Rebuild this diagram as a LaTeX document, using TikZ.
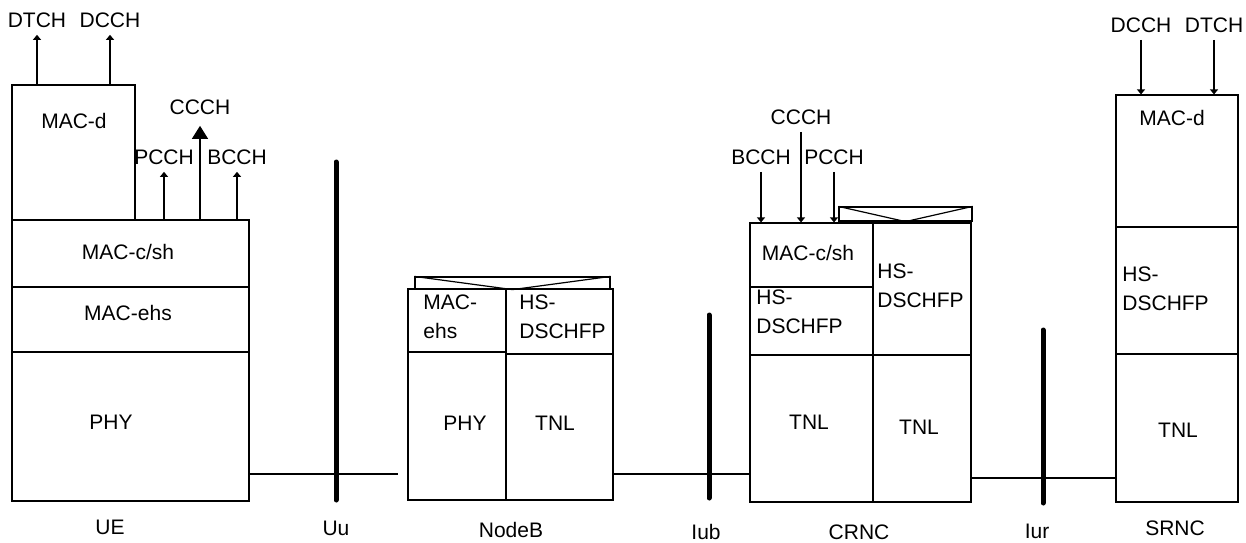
\documentclass[tikz,border=0pt]{standalone}
\usepackage{fontspec}
\setmainfont{Liberation Sans}
\usetikzlibrary{arrows.meta,fit}

\begin{document}
\begin{tikzpicture}[x=0.5pt,y=-0.5pt,
   font=\fontsize{10.5pt}{14.5pt}\selectfont,
   lay/.style={draw,line width=0.6pt,inner sep=0pt},
   txt/.style={inner sep=0pt},
   two/.style={inner sep=0pt,align=left,anchor=west},
   chan/.style={inner xsep=0pt,inner ysep=3.5pt},
   arr/.style={line width=0.6pt,-{Triangle[width=4pt,length=2.5pt]}},
   big/.style={line width=0.6pt,-{Triangle[width=8pt,length=6.5pt]}},
   bar/.style={line width=2.5pt,line cap=round},
   link/.style={line width=0.6pt}]
  \useasboundingbox (0,0) rectangle (1246,542);
  % UE
  \node[lay,fit={(12,85) (135,220)}] (uemacd) {};
  \node[lay,fit={(12,220) (249,287)}] (uemacc) {};
  \node[lay,fit={(12,287) (249,352)}] (ueehs) {};
  \node[lay,fit={(12,352) (249,501)}] (uephy) {};
  \node[txt] (uemacdt) at (74,121) {MAC-d};
  \node[txt] (uemacct) at (128,252) {MAC-c/sh};
  \node[txt] (ueehst) at (128,313) {MAC-ehs};
  \node[txt] (uephyt) at (111,422) {PHY};
  \node[txt] (ue) at (110,527) {UE};
  \node[chan] (uedtch) at (37,20) {DTCH};
  \node[chan] (uedcch) at (110,20) {DCCH};
  \node[chan] (uepcch) at (164,157) {PCCH};
  \node[chan] (ueccch) at (200,107) {CCCH};
  \node[chan] (uebcch) at (237,157) {BCCH};
  \draw[arr] (uemacd.north -| uedtch) -- (uedtch.south);
  \draw[arr] (uemacd.north -| uedcch) -- (uedcch.south);
  \draw[arr] (uemacc.north -| uepcch) -- (uepcch.south);
  \draw[big,shorten >=2pt] (uemacc.north -| ueccch) -- (ueccch.south);
  \draw[arr] (uemacc.north -| uebcch) -- (uebcch.south);
  % Uu
  \draw[bar] (336,162) -- (336,500);
  \node[txt] (uu) at (336,528) {Uu};
  \coordinate (uuend) at (398,474);
  \draw[link] (uephy.east |- uuend) -- (uuend);
  % NodeB
  \node[lay,fit={(415,277) (610,289)}] (nbtray) {};
  \draw[line width=0.6pt] (nbtray.north west) -- (nbtray.south) -- (nbtray.north east);
  \node[lay,fit={(408,289) (506,352)}] (nbehs) {};
  \node[lay,fit={(506,289) (613,354)}] (nbfp) {};
  \node[lay,fit={(408,352) (506,500)}] (nbphy) {};
  \node[lay,fit={(506,354) (613,500)}] (nbtnl) {};
  \node[two] (nbehst) at (423,317) {MAC-\\ehs};
  \node[two] (nbfpt) at (519,317) {HS-\\DSCHFP};
  \node[txt] (nbphyt) at (465,423) {PHY};
  \node[txt] (nbtnlt) at (555,423) {TNL};
  \node[txt] (nodeb) at (511,530) {NodeB};
  % Iub
  \draw[bar] (709,315) -- (709,498);
  \node[txt] (iub) at (706,532) {Iub};
  % CRNC
  \node[lay,fit={(839,207) (972,221)}] (crtray) {};
  \draw[line width=0.6pt] (crtray.north west) -- (crtray.south) -- (crtray.north east);
  \node[lay,fit={(750,223) (873,287)}] (crmacc) {};
  \node[lay,fit={(750,287) (873,355)}] (crfpl) {};
  \node[lay,fit={(873,223) (971,355)}] (crfpr) {};
  \node[lay,fit={(750,355) (873,502)}] (crtnll) {};
  \node[lay,fit={(873,355) (971,502)}] (crtnlr) {};
  \node[txt] (crmacct) at (808,253) {MAC-c/sh};
  \node[two] (crfplt) at (756,312) {HS-\\DSCHFP};
  \node[two] (crfprt) at (877,286) {HS-\\DSCHFP};
  \node[txt] (crtnllt) at (809,422) {TNL};
  \node[txt] (crtnlrt) at (919,427) {TNL};
  \node[txt] (crnc) at (859,532) {CRNC};
  \node[chan] (crbcch) at (761,157) {BCCH};
  \node[chan] (crccch) at (801,117) {CCCH};
  \node[chan] (crpcch) at (834,157) {PCCH};
  \draw[arr] (crbcch.south) -- (crbcch |- crmacc.north);
  \draw[arr] (crccch.south) -- (crccch |- crmacc.north);
  \draw[arr] (crpcch.south) -- (crpcch |- crmacc.north);
  \coordinate (iuby) at (0,474);
  \draw[link] (nbtnl.east |- iuby) -- (crtnll.west |- iuby);
  % Iur
  \draw[bar] (1043,330) -- (1043,503);
  \node[txt] (iur) at (1037,531) {Iur};
  % SRNC
  \node[lay,fit={(1116,95) (1238,227)}] (srmacd) {};
  \node[lay,fit={(1116,227) (1238,354)}] (srfp) {};
  \node[lay,fit={(1116,354) (1238,502)}] (srtnl) {};
  \node[txt] (srmacdt) at (1172,118) {MAC-d};
  \node[two] (srfpt) at (1122,289) {HS-\\DSCHFP};
  \node[txt] (srtnlt) at (1178,430) {TNL};
  \node[txt] (srnc) at (1175,528) {SRNC};
  \node[chan] (srdcch) at (1141,25) {DCCH};
  \node[chan] (srdtch) at (1214,25) {DTCH};
  \draw[arr] (srdcch.south) -- (srdcch |- srmacd.north);
  \draw[arr] (srdtch.south) -- (srdtch |- srmacd.north);
  \coordinate (iury) at (0,478);
  \draw[link] (crtnlr.east |- iury) -- (srtnl.west |- iury);
\end{tikzpicture}
\end{document}
